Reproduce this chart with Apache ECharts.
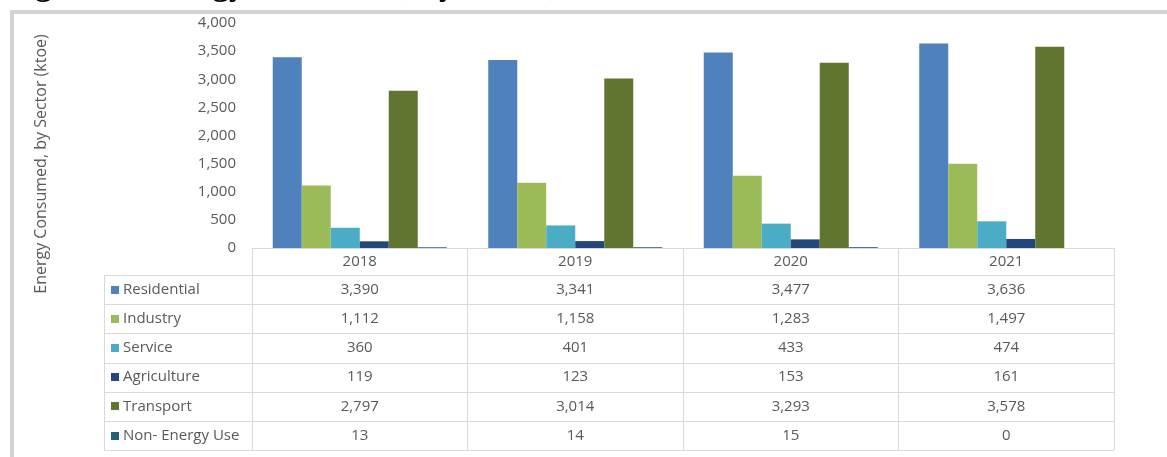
<!DOCTYPE html>
<html>
<head>
<meta charset="utf-8">
<script src="https://cdn.jsdelivr.net/npm/echarts@6/dist/echarts.min.js"></script>
<style>
html,body{margin:0;padding:0;background:#fff;}
#chart{width:1167px;height:457px;}
</style>
</head>
<body>
<div id="chart"></div>
<script>
// ---- data ----
var years = ['2018', '2019', '2020', '2021'];
var seriesNames = ['Residential', 'Industry', 'Service', 'Agriculture', 'Transport', 'Non- Energy Use'];
var residential = [3390, 3341, 3477, 3636];
var industry = [1112, 1158, 1283, 1497];
var service = [360, 401, 433, 474];
var agriculture = [119, 123, 153, 161];
var transport = [2797, 3014, 3293, 3578];
var nonEnergy = [13, 14, 15, 0];
var yTicks = [0, 500, 1000, 1500, 2000, 2500, 3000, 3500, 4000];
var titleText = 'Figure 5: Energy Consumed, by Sector, 2018-2021';
var yTitle = 'Energy Consumed, by Sector (ktoe)';

var allValues = [residential, industry, service, agriculture, transport, nonEnergy];
var colors = ['#4f81bd', '#9bbb59', '#4bacc6', '#23477a', '#5f7530', '#23637a'];

var FONT = '"Open Sans", "Noto Sans", sans-serif';
var TXT = '#595959';
var LINE = '#d9d9d9';

function fmt(v) { return v.toLocaleString('en-US'); }

var chart = echarts.init(document.getElementById('chart'));

var series = seriesNames.map(function (n, i) {
  return {
    name: n, type: 'bar', data: allValues[i],
    barWidth: 29, barGap: '0%',
    itemStyle: { color: colors[i] },
    emphasis: { disabled: true }
  };
});

chart.setOption({
  animation: false,
  textStyle: { fontFamily: FONT },
  grid: { left: 252, right: 53, top: 23, bottom: 209, containLabel: false },
  xAxis: {
    type: 'category', data: years,
    axisLine: { show: true, lineStyle: { color: LINE, width: 1 } },
    axisTick: { show: true, length: 202, lineStyle: { color: LINE, width: 1 } },
    axisLabel: { color: TXT, fontSize: 15, fontFamily: FONT, margin: 6 }
  },
  yAxis: {
    type: 'value', min: yTicks[0], max: yTicks[yTicks.length - 1], interval: 500,
    axisLine: { show: false }, axisTick: { show: false },
    splitLine: { show: false },
    axisLabel: { color: TXT, fontSize: 15, fontFamily: FONT, margin: 16, formatter: function (v) { return fmt(v); } }
  },
  series: series
});

// ---- frame, titles and data table built from the arrays, placed with the x axis scale ----
function buildTable() {
  var g = [];
  g.push({ type: 'rect', shape: { x: 10, y: 10, width: 1157, height: 4 }, style: { fill: '#d4d4d4' }, silent: true });
  g.push({ type: 'rect', shape: { x: 10, y: 10, width: 4, height: 447 }, style: { fill: '#d4d4d4' }, silent: true });
  // title (cut off at top of the picture)
  g.push({ type: 'text', x: 6, y: 3, style: { text: titleText, fill: '#000', font: 'bold 33px "Liberation Serif", serif', verticalAlign: 'bottom', align: 'left' }, silent: true });
  // y axis title
  g.push({ type: 'text', x: 41, y: 164, rotation: Math.PI / 2, style: { text: yTitle, fill: TXT, font: '16px ' + FONT, verticalAlign: 'middle', align: 'center' }, silent: true });

  var tableLeft = 104;
  var axisRight = 1114;
  var rowTop = 275, rowH = 29.2;
  var nRows = seriesNames.length;
  for (var r = 0; r <= nRows; r++) {
    var yy = Math.round(rowTop + r * rowH) + 0.5;
    g.push({ type: 'line', shape: { x1: tableLeft, y1: yy, x2: axisRight, y2: yy }, style: { stroke: LINE, lineWidth: 1 }, silent: true });
  }
  g.push({ type: 'line', shape: { x1: tableLeft + 0.5, y1: rowTop, x2: tableLeft + 0.5, y2: Math.round(rowTop + nRows * rowH) + 0.5 }, style: { stroke: LINE, lineWidth: 1 }, silent: true });

  for (var s = 0; s < nRows; s++) {
    var cy = rowTop + s * rowH + rowH / 2;
    g.push({ type: 'rect', shape: { x: 111, y: Math.round(cy - 4), width: 8, height: 8 }, style: { fill: colors[s] }, silent: true });
    g.push({ type: 'text', x: 123, y: cy, style: { text: seriesNames[s], fill: TXT, font: '15px ' + FONT, verticalAlign: 'middle', align: 'left' }, silent: true });
    for (var c = 0; c < years.length; c++) {
      var px = chart.convertToPixel({ xAxisIndex: 0 }, c);
      g.push({ type: 'text', x: px, y: cy, style: { text: fmt(allValues[s][c]), fill: TXT, font: '15px ' + FONT, verticalAlign: 'middle', align: 'center' }, silent: true });
    }
  }
  chart.setOption({ graphic: { elements: g } });
}
buildTable();
</script>
</body>
</html>
